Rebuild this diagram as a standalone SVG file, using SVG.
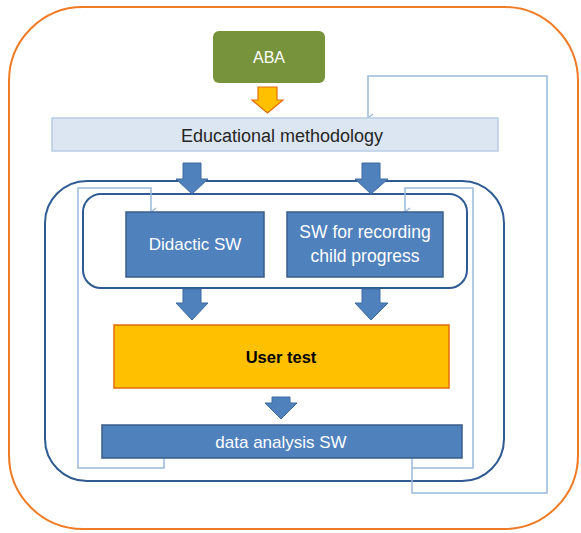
<svg xmlns="http://www.w3.org/2000/svg" width="581" height="533" viewBox="0 0 581 533">
  <style>
    .lbl { font-family: "Liberation Sans", Arial, sans-serif; text-anchor: middle; }
    .white { fill: #ffffff; }
    .blue-box { fill: #4F81BD; stroke: #385D8A; stroke-width: 1.5; }
    .group-frame { fill: none; stroke: #2F5B92; stroke-width: 2; }
    .feedback { fill: none; stroke: #9BB9DD; stroke-width: 1.5; }
    .flow-arrow { fill: #4F81BD; stroke: #3E6AA0; stroke-width: 1; }
  </style>
  <defs>
    <marker id="openHead" viewBox="0 0 10 10" refX="5" refY="9" markerWidth="10" markerHeight="10" markerUnits="userSpaceOnUse" orient="auto-start-reverse">
      <polyline points="1,4 5,9 9,4" fill="none" stroke="#9BB9DD" stroke-width="1.3"/>
    </marker>
  </defs>

  <rect width="581" height="533" fill="#ffffff"/>

  <!-- outer frame -->
  <rect x="9" y="7" width="569" height="522" rx="74" ry="74" fill="#ffffff" stroke="#F07B25" stroke-width="2"/>

  <!-- group frames -->
  <rect x="45" y="181" width="459" height="300" rx="42" ry="42" class="group-frame"/>
  <rect x="83" y="194" width="384" height="94" rx="18" ry="18" class="group-frame"/>

  <!-- connectors -->
  <g id="connectors">
    <!-- ABA to methodology -->
    <polygon points="258,87 277,87 277,100 283,100 267.5,113 252,100 258,100" fill="#FFC000" stroke="#E46C0A" stroke-width="1.2"/>
    <!-- methodology to software tools -->
    <polygon class="flow-arrow" points="183,163 201,163 201,179 208,179 192,194 176,179 183,179"/>
    <polygon class="flow-arrow" points="362,163 380,163 380,179 388,179 371,194 355,179 362,179"/>
    <!-- software tools to user test -->
    <polygon class="flow-arrow" points="183,289 201,289 201,303 208,303 192,320 176,303 183,303"/>
    <polygon class="flow-arrow" points="362,289 380,289 380,303 388,303 371,320 355,303 362,303"/>
    <!-- user test to data analysis -->
    <polygon class="flow-arrow" points="272,397 290,397 290,403 297,403 281,419 265,403 272,403"/>
    <!-- feedback loops -->
    <polyline class="feedback" points="164,458 164,468 78,468 78,188 151,188 151,212" marker-end="url(#openHead)"/>
    <polyline class="feedback" points="412,468 473,468 473,188 405,188 405,212" marker-end="url(#openHead)"/>
    <polyline class="feedback" points="412,458 412,493 547,493 547,76 368,76 368,118" marker-end="url(#openHead)"/>
  </g>

  <g id="aba">
    <rect x="213" y="31" width="112" height="52" rx="6" ry="6" fill="#77933C"/>
    <text x="269" y="63" class="lbl white" font-size="16">ABA</text>
  </g>

  <g id="methodology">
    <rect x="52" y="118" width="446" height="33" fill="#DCE6F2" stroke="#B9CDE5" stroke-width="1.5"/>
    <text x="282" y="142" class="lbl" font-size="18" fill="#262626">Educational methodology</text>
  </g>

  <g id="didactic-sw">
    <rect x="126" y="212" width="138" height="65" class="blue-box"/>
    <text x="195" y="250" class="lbl white" font-size="17">Didactic SW</text>
  </g>

  <g id="progress-sw">
    <rect x="287" y="212" width="156" height="65" class="blue-box"/>
    <text x="365" y="238" class="lbl white" font-size="17.5">SW for recording</text>
    <text x="365" y="262" class="lbl white" font-size="17.5">child progress</text>
  </g>

  <g id="user-test">
    <rect x="114" y="325" width="335" height="63" fill="#FFC000" stroke="#E46C0A" stroke-width="1.5"/>
    <text x="281" y="363" class="lbl" font-size="16.5" font-weight="bold" fill="#000000">User test</text>
  </g>

  <g id="data-analysis">
    <rect x="102" y="425" width="360" height="33" class="blue-box"/>
    <text x="281" y="448" class="lbl white" font-size="17">data analysis SW</text>
  </g>
</svg>
